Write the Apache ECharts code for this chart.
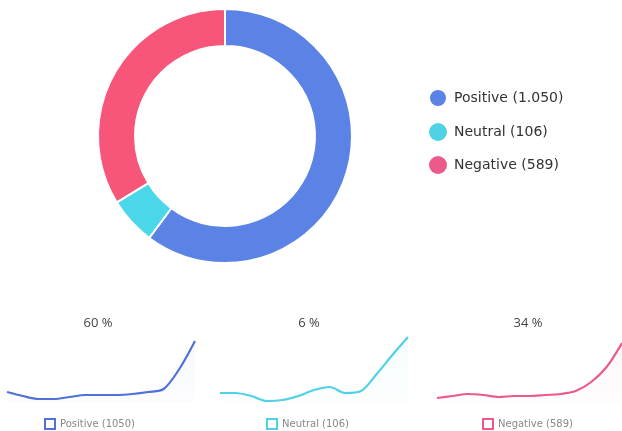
<!DOCTYPE html>
<html>
<head>
<meta charset="utf-8">
<script src="https://cdn.jsdelivr.net/npm/echarts@6/dist/echarts.min.js"></script>
<style>
  html, body { margin: 0; padding: 0; background: #fff; }
  #chart { width: 622px; height: 431px; }
</style>
</head>
<body>
<div id="chart"></div>
<script>
// donut data
var sentimentNames = ["Positive (1.050)", "Neutral (106)", "Negative (589)"];
var sentimentValues = [1050, 106, 589];
var donutColors = ["#5b83e6", "#4ad7ea", "#f7557a"];

// sparkline data
var trendNames = ["Positive (1050)", "Neutral (106)", "Negative (589)"];
var trendPercent = ["60 %", "6 %", "34 %"];
var trendDays = ["1", "2", "3", "4", "5", "6", "7", "8", "9", "10", "11", "12", "13"];
var positiveTrend = [10, 6, 3, 3, 5, 7, 7, 7, 8, 10, 13, 33, 61];
var neutralTrend = [9, 9, 6, 1, 2, 6, 12, 15, 9, 11, 28, 47, 65];
var negativeTrend = [4, 6, 8, 7, 5, 6, 6, 7, 8, 11, 20, 35, 59];
var lineColors = ["#5070da", "#4fd2e6", "#ec5a8a"];

var chart = echarts.init(document.getElementById("chart"));

var gridLeft = [7, 220, 437];
var trends = [positiveTrend, neutralTrend, negativeTrend];

var grids = [], xAxes = [], yAxes = [], lines = [], titles = [], legends = [];
for (var i = 0; i < 3; i++) {
  grids.push({ left: gridLeft[i], top: 336, width: 188, height: 66 });
  xAxes.push({ type: "category", gridIndex: i, data: trendDays, boundaryGap: false, show: false });
  yAxes.push({ type: "value", gridIndex: i, min: 0, max: 66, show: false });
  lines.push({
    name: trendNames[i],
    type: "line",
    xAxisIndex: i,
    yAxisIndex: i,
    data: trends[i],
    smooth: 0.3,
    symbol: "none",
    lineStyle: { color: lineColors[i], width: 2.2 },
    itemStyle: { color: lineColors[i] },
    areaStyle: {
      color: {
        type: "linear", x: 0, y: 0, x2: 0, y2: 1,
        colorStops: [
          { offset: 0, color: echarts.color.modifyAlpha(lineColors[i], 0.08) },
          { offset: 1, color: echarts.color.modifyAlpha(lineColors[i], 0.02) }
        ]
      }
    }
  });
  titles.push({
    text: trendPercent[i],
    left: [93, 304, 523][i],
    top: 312,
    textAlign: "center",
    textStyle: { fontSize: 13, fontWeight: "normal", color: "#444", fontFamily: "Open Sans" }
  });
  legends.push({
    data: [trendNames[i]],
    left: [39, 261, 477][i],
    top: 413,
    icon: "rect",
    itemWidth: 10,
    itemHeight: 10,
    itemStyle: { color: "#fff", borderColor: lineColors[i], borderWidth: 2 },
    textStyle: { fontSize: 10, color: "#888", fontFamily: "DejaVu Sans" },
    selectedMode: false
  });
}

legends.push({
  data: sentimentNames,
  orient: "vertical",
  left: 423,
  top: 83,
  icon: "circle",
  itemWidth: 18,
  itemHeight: 18,
  itemGap: 15,
  textStyle: { fontSize: 14, color: "#333", fontFamily: "DejaVu Sans", padding: [0, 0, 0, 2] },
  selectedMode: false
});

var option = {
  animation: false,
  title: titles,
  legend: legends,
  grid: grids,
  xAxis: xAxes,
  yAxis: yAxes,
  series: [
    {
      type: "pie",
      center: [225, 136],
      radius: [90, 127],
      startAngle: 90,
      clockwise: true,
      label: { show: false },
      labelLine: { show: false },
      itemStyle: { borderColor: "#fff", borderWidth: 2 },
      data: sentimentNames.map(function (n, k) {
        return { name: n, value: sentimentValues[k], itemStyle: { color: donutColors[k] } };
      })
    }
  ].concat(lines)
};

chart.setOption(option);
</script>
</body>
</html>
